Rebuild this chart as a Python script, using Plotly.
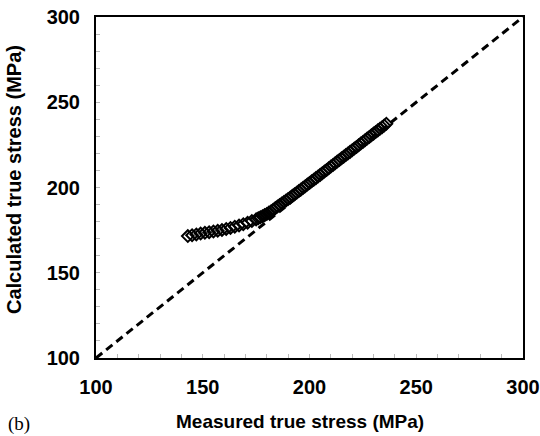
import plotly.graph_objects as go

# Measured vs calculated true stress (MPa)
measured = [143, 145, 147, 149, 151, 153, 155, 157, 159, 161, 163, 165, 167, 169,
            171, 173, 175, 176, 177, 178, 179, 180, 181, 182, 183, 184, 185, 186,
            187, 188, 189, 190, 191, 192, 193, 194, 195, 196, 197, 198, 199, 200,
            201, 202, 203, 204, 205, 206, 207, 208, 209, 210, 211, 212, 213, 214,
            215, 216, 217, 218, 219, 220, 221, 222, 223, 224, 225, 226, 227, 228,
            229, 230, 231, 232, 233, 234, 235, 236]
calculated = [171.5, 172.0, 172.5, 173.0, 173.4, 173.8, 174.2, 174.6, 175.1, 175.7,
              176.3, 177.0, 177.7, 178.5, 179.3, 180.3, 181.3, 181.9, 182.5, 183.1,
              183.8, 184.5, 185.3, 186.1, 187.0, 187.9, 188.8, 189.7, 190.6, 191.5,
              192.4, 193.3, 194.2, 195.1, 196.0, 196.9, 197.9, 198.8, 199.8, 200.7,
              201.7, 202.6, 203.6, 204.5, 205.5, 206.5, 207.4, 208.4, 209.4, 210.3,
              211.3, 212.3, 213.2, 214.2, 215.2, 216.1, 217.1, 218.0, 219.0, 220.0,
              220.9, 221.9, 222.9, 223.8, 224.8, 225.8, 226.7, 227.7, 228.7, 229.6,
              230.6, 231.6, 232.5, 233.5, 234.5, 235.4, 236.4, 237.4]

# 1:1 reference line
line_x = [100, 300]
line_y = [100, 300]

tick_vals = [100, 150, 200, 250, 300]

fig = go.Figure()
fig.add_trace(go.Scatter(
    x=line_x, y=line_y, mode="lines",
    line=dict(color="black", width=3, dash="8px,5px"),
    hoverinfo="skip", showlegend=False,
))
fig.add_trace(go.Scatter(
    x=measured, y=calculated, mode="markers",
    marker=dict(symbol="diamond-open", size=9, color="black",
                line=dict(width=2, color="black")),
    showlegend=False,
))

axis_common = dict(
    range=[100, 300], tickvals=tick_vals,
    showgrid=False, zeroline=False, automargin=False,
    showline=True, linecolor="black", linewidth=2, mirror=True,
    ticks="inside", ticklen=4, tickcolor="#bbbbbb", tickwidth=1,
    minor=dict(dtick=10, ticks="inside", ticklen=4, tickcolor="#bbbbbb", tickwidth=1),
    tickfont=dict(family="Liberation Sans, Arial, sans-serif", size=20, color="black",
                  weight="bold"),
    ticklabelstandoff=10,
)

fig.update_xaxes(**axis_common)
fig.update_yaxes(**axis_common)

L, R, T, B = 96, 17, 17, 78
W, H = 540, 436
pw, ph = W - L - R, H - T - B

fig.update_layout(
    width=W, height=H,
    margin=dict(l=L, r=R, t=T, b=B),
    plot_bgcolor="white", paper_bgcolor="white",
    font=dict(family="Liberation Sans, Arial, sans-serif", color="black"),
    annotations=[
        dict(text="<b>Measured true stress (MPa)</b>", xref="paper", yref="paper",
             x=(300 - L) / pw, y=-(421 - T - ph) / ph,
             showarrow=False, font=dict(size=19), xanchor="center", yanchor="middle"),
        dict(text="<b>Calculated true stress (MPa)</b>", xref="paper", yref="paper",
             x=(14 - L) / pw, y=(T + ph - 180) / ph,
             showarrow=False, font=dict(size=20), textangle=-90,
             xanchor="center", yanchor="middle"),
        dict(text="(b)", xref="paper", yref="paper",
             x=(6 - L) / pw, y=-(424 - T - ph) / ph,
             showarrow=False, font=dict(size=19, family="Liberation Serif, Times New Roman, serif"),
             xanchor="left", yanchor="middle"),
    ],
)

fig.write_html("out.html")
